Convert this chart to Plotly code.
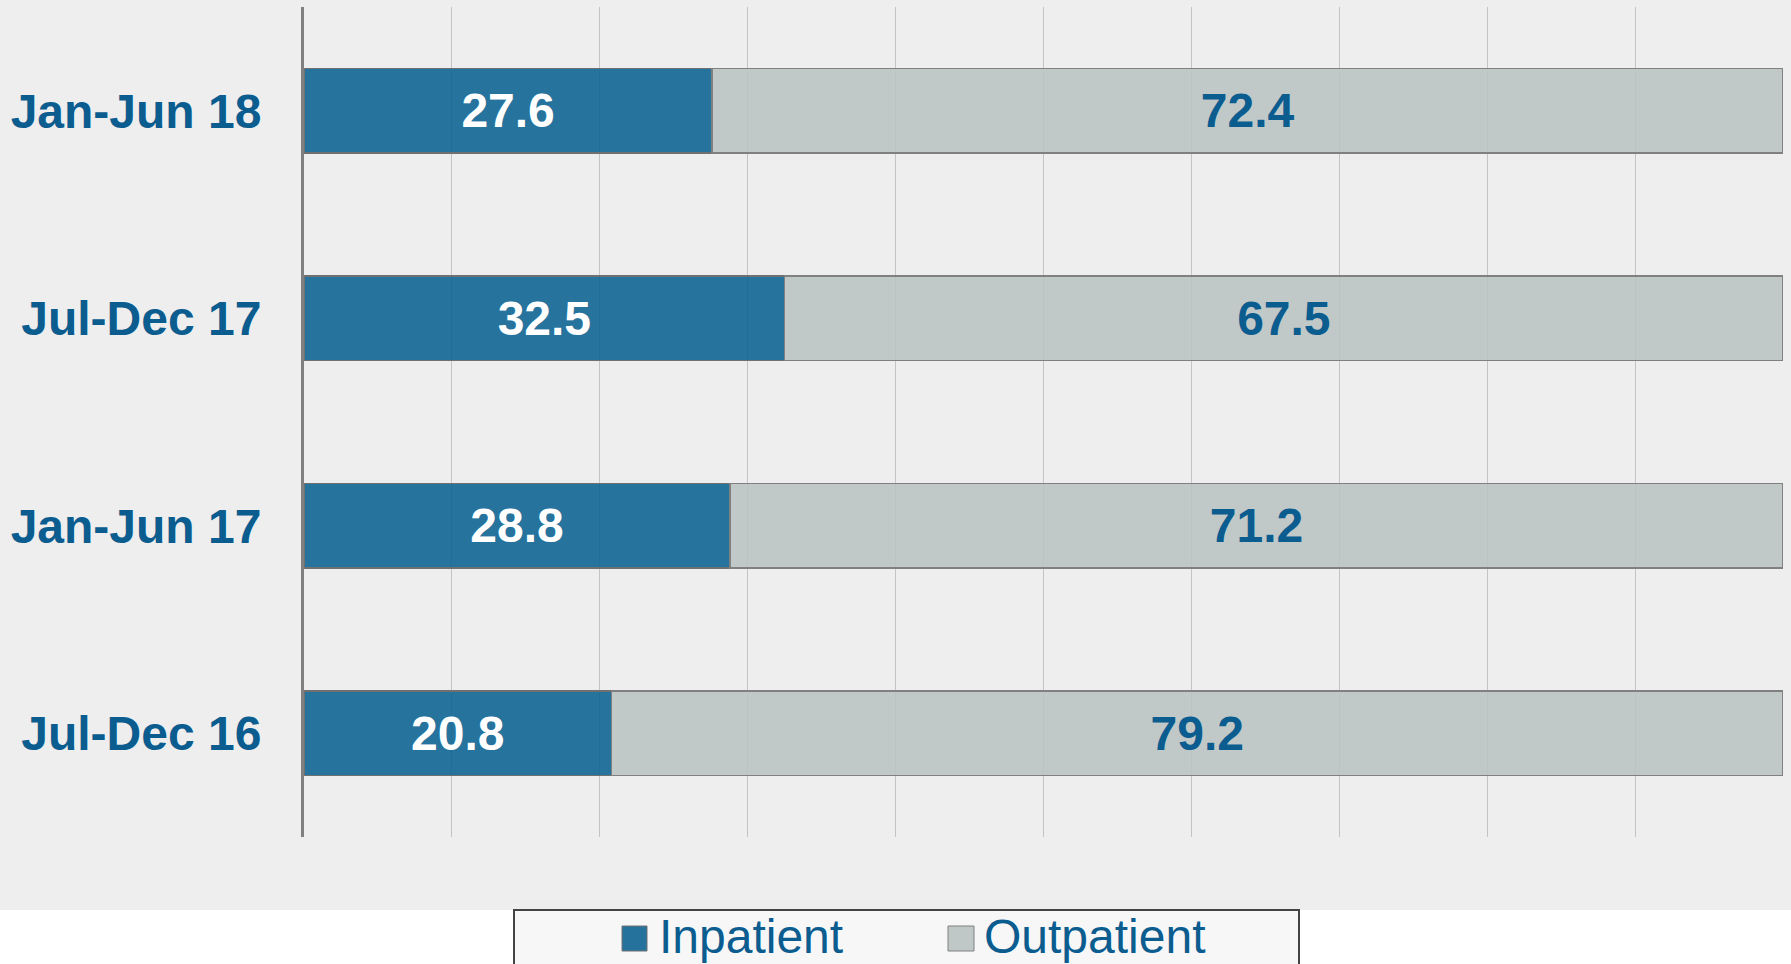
import plotly.graph_objects as go

# Data (bottom-to-top order of the categorical axis)
periods = ["Jul-Dec 16", "Jan-Jun 17", "Jul-Dec 17", "Jan-Jun 18"]
inpatient = [20.8, 28.8, 32.5, 27.6]
outpatient = [79.2, 71.2, 67.5, 72.4]
series_names = ["Inpatient", "Outpatient"]

W, H = 1791, 964
L, R, T, B = 304, 8, 7, 127
pw, ph = W - L - R, H - T - B

def px_x(x):
    return (x - L) / pw

def px_y(y):
    return (H - B - y) / ph

BLUE_T = "rgba(15,101,147,0.9)"
GREY_T = "rgba(187,196,195,0.9)"
BLUE = "#25739c"
GREY = "#c0c8c7"
TXT = "#0b5c8f"
FONT = "Liberation Sans, Arial, sans-serif"
FS = 48

fig = go.Figure()
fig.add_trace(go.Bar(
    y=periods, x=inpatient, orientation="h", name=series_names[0],
    marker=dict(color=BLUE_T, line=dict(color="#707070", width=1.5)),
    texttemplate="%{x:.1f}", textposition="inside", insidetextanchor="middle",
    constraintext="none",
    textfont=dict(family=FONT, size=FS, color="white", weight="bold"),
    showlegend=False,
))
fig.add_trace(go.Bar(
    y=periods, x=outpatient, orientation="h", name=series_names[1],
    marker=dict(color=GREY_T, line=dict(color="#808080", width=1.5)),
    texttemplate="%{x:.1f}", textposition="inside", insidetextanchor="middle",
    constraintext="none",
    textfont=dict(family=FONT, size=FS, color=TXT, weight="bold"),
    showlegend=False,
))

shapes = [
    # grey background behind the chart area
    dict(type="rect", xref="paper", yref="paper", x0=-0.3, x1=1.1,
         y0=px_y(910), y1=px_y(-5), fillcolor="#eeeeee", line=dict(width=0),
         layer="below"),
    # legend box
    dict(type="rect", xref="paper", yref="paper", x0=px_x(514), x1=px_x(1299),
         y0=px_y(1000), y1=px_y(910), fillcolor="#f7f7f7",
         line=dict(color="#444444", width=2), layer="above"),
    # legend swatches
    dict(type="rect", xref="paper", yref="paper", x0=px_x(622), x1=px_x(647),
         y0=px_y(951), y1=px_y(926), fillcolor=BLUE,
         line=dict(color="#707070", width=1), layer="above"),
    dict(type="rect", xref="paper", yref="paper", x0=px_x(948), x1=px_x(974),
         y0=px_y(951), y1=px_y(926), fillcolor=GREY,
         line=dict(color="#808080", width=1), layer="above"),
]

annotations = [
    dict(text=series_names[0], xref="paper", yref="paper", x=px_x(657), y=px_y(936),
         xanchor="left", yanchor="middle", showarrow=False,
         font=dict(family=FONT, size=FS, color=TXT)),
    dict(text=series_names[1], xref="paper", yref="paper", x=px_x(982), y=px_y(936),
         xanchor="left", yanchor="middle", showarrow=False,
         font=dict(family=FONT, size=FS, color=TXT)),
]

fig.update_layout(
    width=W, height=H, autosize=False,
    margin=dict(l=L, r=R, t=T, b=B, pad=0, autoexpand=False),
    paper_bgcolor="white", plot_bgcolor="#eeeeee",
    barmode="stack", bargap=0.595,
    shapes=shapes, annotations=annotations,
    xaxis=dict(range=[0, 100], dtick=10, showgrid=True, gridcolor="#c4c4c4",
               gridwidth=1, showticklabels=False, ticks="", zeroline=False,
               showline=False, fixedrange=True, automargin=False),
    yaxis=dict(range=[-0.5, 3.5], showgrid=False, showline=True, linecolor="#808080",
               linewidth=3, ticks="", ticklabelstandoff=30, automargin=False,
               tickfont=dict(family=FONT, size=FS, color=TXT, weight="bold"),
               zeroline=False, fixedrange=True),
    font=dict(family=FONT),
)

fig.write_html(
    "out.html",
    config={"displayModeBar": False},
    post_script="document.body.style.margin='0';document.body.style.overflow='hidden';",
)
